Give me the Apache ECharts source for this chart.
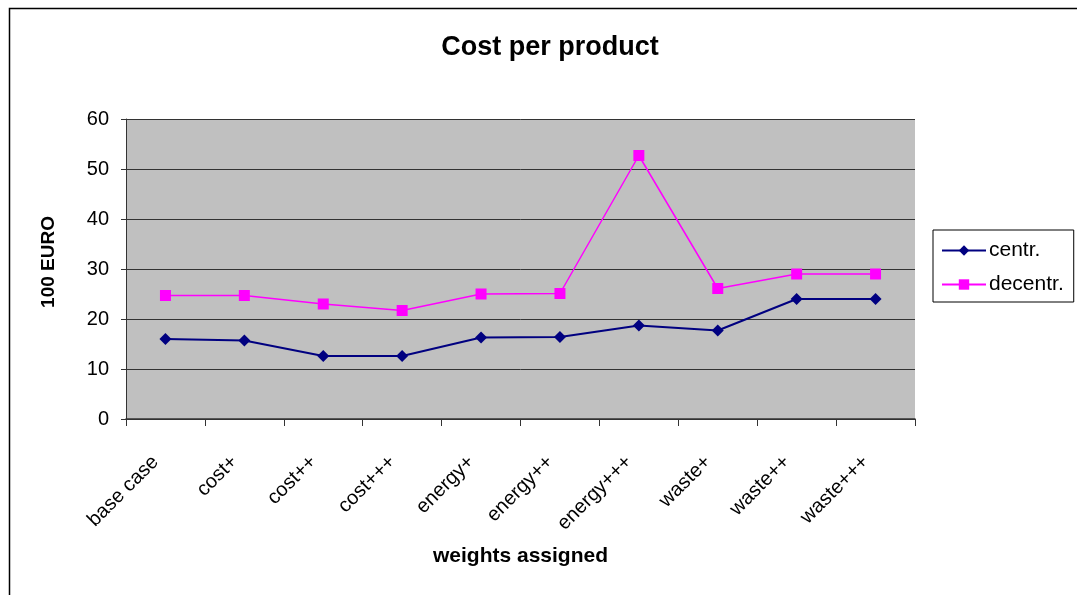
<!DOCTYPE html>
<html>
<head>
<meta charset="utf-8">
<script src="https://cdn.jsdelivr.net/npm/echarts@6/dist/echarts.min.js"></script>
<style>html,body{margin:0;padding:0;background:#fff}#c{width:1077px;height:595px}</style>
</head>
<body>
<div id="c"></div>
<script>
const categories = ['base case','cost+','cost++','cost+++','energy+','energy++','energy+++','waste+','waste++','waste+++'];
const centr = [16.0, 15.7, 12.6, 12.6, 16.3, 16.4, 18.7, 17.7, 24.0, 24.0];
const decentr = [24.7, 24.7, 23.0, 21.7, 25.0, 25.1, 52.7, 26.1, 29.0, 29.0];
const yTicks = [0, 10, 20, 30, 40, 50, 60];

const FONT = '"Liberation Sans", Arial, sans-serif';
const chart = echarts.init(document.getElementById('c'), null, {renderer: 'canvas'});
chart.setOption({
  animation: false,
  backgroundColor: '#ffffff',
  textStyle: {fontFamily: FONT, color: '#000'},
  title: {
    text: 'Cost per product',
    left: 545, top: 29, textAlign: 'center',
    textStyle: {fontFamily: FONT, fontSize: 27, fontWeight: 'bold', color: '#000'}
  },
  graphic: [{
    type: 'rect', silent: true, z: -10,
    shape: {x: 9.5, y: 8.5, width: 1100, height: 620},
    style: {fill: 'none', stroke: '#000', lineWidth: 1.5}
  }],
  legend: {
    orient: 'vertical', left: 933, top: 230,
    padding: [10, 10, 7, 8],
    itemGap: 13,
    itemWidth: 44, itemHeight: 13,
    borderColor: '#000', borderWidth: 1,
    backgroundColor: '#fff',
    textStyle: {fontFamily: FONT, fontSize: 21, color: '#000', padding: [0, 0, 0, -2]},
    data: ['centr.', 'decentr.']
  },
  grid: {left: 126, right: 162, top: 119, bottom: 176, show: true, backgroundColor: '#c0c0c0', borderWidth: 0},
  xAxis: {
    type: 'category', data: categories, boundaryGap: true,
    name: 'weights assigned', nameLocation: 'middle', nameGap: 127,
    nameTextStyle: {fontFamily: FONT, fontSize: 21, fontWeight: 'bold', color: '#000'},
    axisLine: {show: true, lineStyle: {color: '#333', width: 1.5}},
    axisTick: {show: true, length: 7, lineStyle: {color: '#333'}},
    axisLabel: {rotate: 45, interval: 0, margin: 30, fontFamily: FONT, fontSize: 20, color: '#000', padding: [0, 14, 0, 0]},
    splitLine: {show: false}
  },
  yAxis: {
    type: 'value', min: yTicks[0], max: yTicks[yTicks.length-1], interval: 10,
    name: '100 EURO', nameLocation: 'middle', nameGap: 68, nameRotate: 90,
    nameTextStyle: {fontFamily: FONT, fontSize: 19, fontWeight: 'bold', color: '#000', padding: [0, 0, 0, 14]},
    axisLine: {show: true, lineStyle: {color: '#333', width: 1}},
    axisTick: {show: true, length: 5, lineStyle: {color: '#333'}},
    axisLabel: {margin: 17, fontFamily: FONT, fontSize: 20, color: '#000'},
    splitLine: {show: true, lineStyle: {color: '#333', width: 1}}
  },
  series: [
    {
      name: 'centr.', type: 'line', data: centr,
      symbol: 'diamond', symbolSize: 12, showAllSymbol: true,
      itemStyle: {color: '#000080'},
      lineStyle: {color: '#000080', width: 2}
    },
    {
      name: 'decentr.', type: 'line', data: decentr,
      symbol: 'rect', symbolSize: 11, showAllSymbol: true,
      itemStyle: {color: '#ff00ff'},
      lineStyle: {color: '#ff00ff', width: 1.5}
    }
  ]
});
</script>
</body>
</html>
